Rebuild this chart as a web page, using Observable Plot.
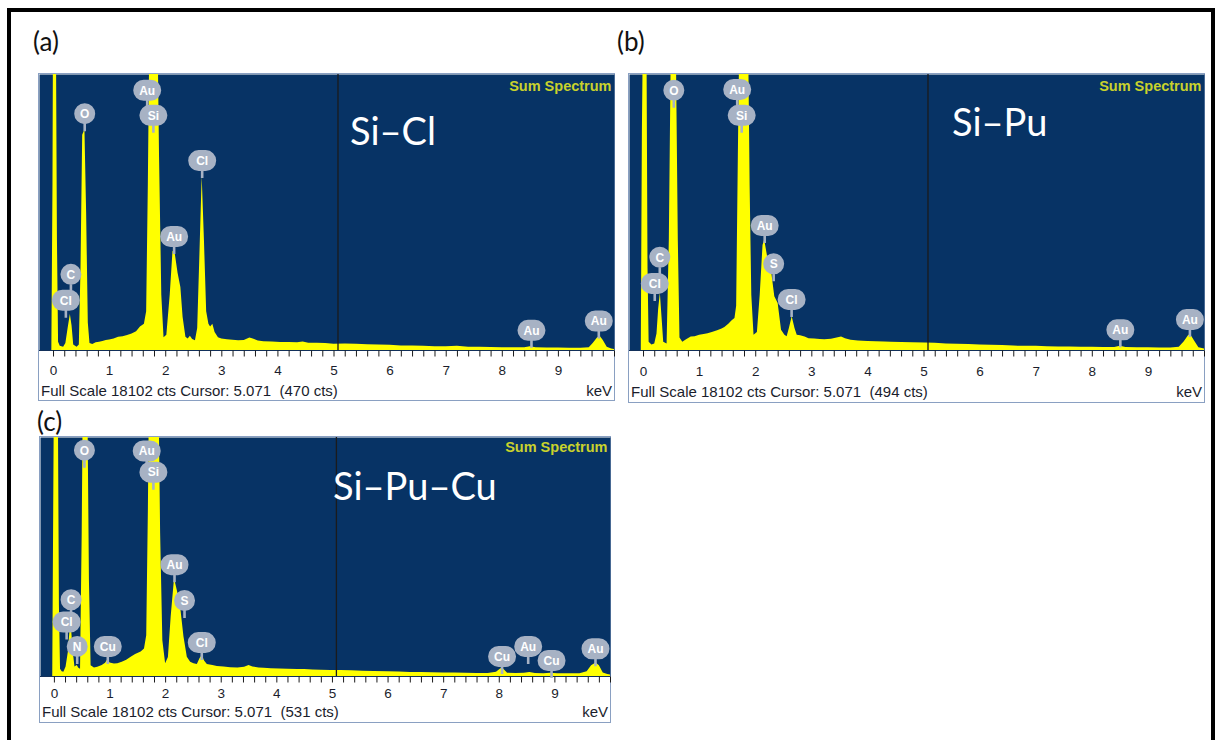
<!DOCTYPE html>
<html><head><meta charset="utf-8">
<script src="https://cdn.jsdelivr.net/npm/d3@7"></script>
<script src="https://cdn.jsdelivr.net/npm/@observablehq/plot@0.6"></script>
<style>
body{margin:0;background:#fff;}
#page{position:relative;width:1216px;height:740px;overflow:hidden;background:#fff;font-family:"Liberation Sans",Arial,sans-serif;}
.frame{position:absolute;left:7px;top:8px;width:1208px;height:800px;border:4px solid #000;box-sizing:border-box;}
.panel{position:absolute;border:1px solid #8aa0c2;background:#fff;box-sizing:border-box;}
.plot{position:absolute;}
.cap{position:absolute;font-size:15px;color:#1a1d2c;white-space:pre;line-height:16px;}
.tag{position:absolute;font-family:Lato,"Open Sans",sans-serif;font-size:26px;line-height:26px;color:#111;}
.name{position:absolute;font-family:Lato,"Open Sans",sans-serif;font-size:38px;line-height:38px;color:#fff;white-space:pre;}
</style></head>
<body><div id="page"><div class="frame"></div></div>
<script>
// ---------- data ----------
const fullScaleCts = 18102;
const cursorKeV = 5.071;
const cursorCts = [470, 494, 531];
const panelTags = ["(a)", "(b)", "(c)"];
const panelNames = ["Si–Cl", "Si–Pu", "Si–Pu–Cu"];
const majorTicks = [0,1,2,3,4,5,6,7,8,9];
const minorTicks = d3.range(0, 10.01, 0.2);

// spectrum (a) Si–Cl : energy (keV) / counts (% of full scale)
const specA_keV = [-0.03,-0.01,0.00,0.05,0.07,0.09,0.12,0.18,0.22,0.26,0.30,0.33,0.36,0.42,0.46,0.49,0.52,0.56,0.59,0.62,0.65,0.70,0.76,0.82,0.88,0.94,1.00,1.08,1.16,1.24,1.32,1.40,1.48,1.55,1.62,1.66,1.69,1.72,1.86,1.89,1.93,1.97,2.02,2.08,2.13,2.17,2.22,2.27,2.31,2.36,2.40,2.44,2.48,2.53,2.57,2.61,2.65,2.69,2.73,2.77,2.80,2.84,2.88,2.94,3.00,3.10,3.20,3.30,3.40,3.50,3.56,3.65,3.75,3.90,4.05,4.20,4.35,4.45,4.55,4.70,4.85,5.00,5.20,5.40,5.60,5.80,6.00,6.20,6.40,6.60,6.80,7.00,7.20,7.40,7.60,7.80,8.00,8.20,8.40,8.50,8.60,8.80,9.00,9.20,9.40,9.55,9.62,9.70,9.75,9.80,9.87,9.95,10.0];
const specA_cts = [0,60,120,120,40,3,1.5,1.2,2.5,8,13,9,2,1.2,2,30,78,80,50,10,2.5,2.2,2.8,3.0,3.3,3.6,3.8,4.2,4.8,5.0,5.4,6.0,6.8,8.5,9.5,14,60,120,120,70,20,4.6,5.5,20,36,35,28,22.8,12,4.8,4.2,5.2,4.0,3.5,8,35,63,40,14,9.5,8.5,9.5,6.5,4.6,4.2,3.9,3.7,3.5,3.6,4.5,4.2,3.4,3.2,3.1,2.9,2.9,2.8,3.1,2.6,2.6,2.5,2.3,2.4,2.3,2.1,2.0,1.9,1.6,1.6,1.5,1.4,1.4,1.5,1.2,1.2,1.1,1.0,1.0,1.0,1.4,1.0,0.9,0.9,0.8,0.8,1.0,2.5,4.6,5.0,3.6,1.2,0.5,0.4];

// spectrum (b) Si–Pu
const specB_keV = [-0.04,-0.02,0.00,0.06,0.08,0.10,0.15,0.20,0.24,0.27,0.30,0.33,0.36,0.42,0.46,0.50,0.58,0.62,0.65,0.70,0.76,0.85,0.92,1.00,1.08,1.15,1.24,1.32,1.40,1.45,1.52,1.58,1.63,1.66,1.69,1.72,1.87,1.90,1.93,1.97,2.03,2.08,2.13,2.16,2.22,2.28,2.34,2.40,2.46,2.52,2.56,2.60,2.65,2.70,2.74,2.80,2.88,2.95,3.05,3.15,3.23,3.35,3.45,3.53,3.60,3.70,3.83,4.00,4.15,4.30,4.42,4.60,4.80,5.02,5.20,5.40,5.60,5.80,6.00,6.20,6.40,6.60,6.80,7.00,7.20,7.40,7.60,7.80,8.00,8.20,8.40,8.50,8.60,8.80,9.00,9.20,9.40,9.55,9.64,9.72,9.76,9.82,9.90,10.0];
const specB_cts = [0,80,120,120,30,3,2,2.4,6,15,20.7,12,3,2.4,40,120,120,40,4.5,3.0,3.8,4.9,5.0,5.5,5.8,6.1,6.6,7.2,7.8,8.3,9.5,10.8,11.6,16,70,120,120,60,20,5.5,6.5,20,38,40,33,29.2,19.5,17,7.3,5.5,5.0,8,12.2,8,5.5,5.3,4.9,4.3,4.2,4.0,3.9,4.1,4.5,4.9,4.3,3.7,3.4,3.3,3.2,3.1,3.0,2.9,2.8,2.7,2.6,2.4,2.3,2.2,2.0,1.9,1.8,1.6,1.5,1.5,1.4,1.3,1.3,1.2,1.2,1.1,1.1,1.5,1.1,1.0,1.0,0.9,0.9,1.2,3.2,5.5,5.5,3.5,1.0,0.5];

// spectrum (c) Si–Pu–Cu
const specC_keV = [-0.03,-0.01,0.00,0.07,0.09,0.11,0.14,0.17,0.21,0.25,0.28,0.31,0.34,0.37,0.41,0.44,0.47,0.50,0.52,0.60,0.63,0.66,0.72,0.78,0.86,0.92,0.96,1.00,1.08,1.14,1.22,1.30,1.38,1.46,1.56,1.62,1.66,1.69,1.71,1.88,1.91,1.95,2.00,2.05,2.10,2.16,2.21,2.27,2.33,2.39,2.45,2.51,2.57,2.62,2.66,2.70,2.75,2.85,2.93,3.05,3.17,3.30,3.42,3.50,3.57,3.68,3.77,3.90,4.05,4.20,4.37,4.50,4.65,4.80,4.97,5.15,5.35,5.55,5.75,6.00,6.20,6.40,6.60,6.80,7.00,7.20,7.40,7.60,7.80,7.95,8.03,8.08,8.15,8.30,8.45,8.55,8.65,8.80,8.92,9.05,9.25,9.45,9.58,9.66,9.74,9.80,9.87,9.95,10.0];
const specC_cts = [0,80,120,120,30,3,2,1.8,4,10,19,19.3,10,4,4.6,3.5,3,60,120,120,40,4.5,3.6,3.9,4.6,5.5,7.0,5.6,5.2,5.3,6.0,6.8,8.1,9.2,10.2,11.5,17,70,120,120,60,15,5.3,8,25,40.9,36,29,16.5,8.1,6.0,5.3,5.0,7.5,8.8,6.5,5.0,4.6,4.2,4.0,3.7,3.6,3.9,4.6,4.0,3.6,3.4,3.2,3.1,3.0,2.9,2.9,2.7,2.6,2.5,2.5,2.4,2.2,2.1,2.0,1.9,1.7,1.7,1.6,1.5,1.5,1.4,1.3,1.3,1.8,3.2,3.0,1.4,1.3,1.4,1.7,1.3,1.2,1.4,1.2,1.2,1.2,2.0,4.5,5.6,4.5,1.5,0.8,0.6];

// element labels (badge centre: energy keV, height %)
const labelsA_el  = ["Au","Si","O","Cl","Au","C","Cl","Au","Au"];
const labelsA_keV = [1.67,1.78,0.556,2.65,2.15,0.31,0.22,8.52,9.72];
const labelsA_y   = [94.3,85.2,85.8,68.8,41.3,27.6,18.2,7.3,10.7];

const labelsB_el  = ["Au","Si","O","Au","S","Cl","C","Cl","Au","Au"];
const labelsB_keV = [1.67,1.75,0.54,2.16,2.32,2.64,0.29,0.20,8.50,9.74];
const labelsB_y   = [94.6,85.2,94.3,45.3,31.4,18.5,33.8,24.3,7.5,11.2];

const labelsC_el  = ["Au","Si","O","Au","S","Cl","C","Cl","N","Cu","Cu","Au","Cu","Au"];
const labelsC_keV = [1.66,1.78,0.54,2.16,2.34,2.65,0.30,0.22,0.41,0.96,8.05,8.52,8.94,9.73];
const labelsC_y   = [94.4,85.5,94.7,46.8,31.8,14.2,32.1,22.8,12.6,12.6,8.4,12.6,6.7,11.6];

// ---------- layout (page px) ----------
const layouts = [
  {box:[38,73,577,328],  plot:[39,74,575,276],  numDy:20, capTop:383, sumDy:12, tag:[33,28],  name:[350,111]},
  {box:[628,73,577,330], plot:[629,74,575,276], numDy:21, capTop:384, sumDy:12, tag:[617,28], name:[952,102]},
  {box:[39,436,572,287], plot:[40,437,570,239], numDy:17, capTop:704, sumDy:10, tag:[37,408], name:[333,466]}
];
const spectra = [[specA_keV,specA_cts],[specB_keV,specB_cts],[specC_keV,specC_cts]];
const labels = [[labelsA_el,labelsA_keV,labelsA_y],[labelsB_el,labelsB_keV,labelsB_y],[labelsC_el,labelsC_keV,labelsC_y]];

const BG = "#073365", YEL = "#ffff00", BADGE = "#a7b2c4";
const stem = (ctx, r) => { ctx.moveTo(-1.3, r-1); ctx.lineTo(1.3, r-1); ctx.lineTo(1.3, r+7); ctx.lineTo(-1.3, r+7); ctx.closePath(); };
const roundBadge = {draw(ctx){ const r = 10.5; ctx.moveTo(r,0); ctx.arc(0,0,r,0,2*Math.PI); ctx.closePath(); stem(ctx, r); }};
const wideBadge = {draw(ctx){ const r = 10.5, w = 3.5; ctx.moveTo(-w,-r); ctx.lineTo(w,-r); ctx.arc(w,0,r,-Math.PI/2,Math.PI/2); ctx.lineTo(-w,r); ctx.arc(-w,0,r,Math.PI/2,3*Math.PI/2); ctx.closePath(); stem(ctx, r); }};
const tickSym = {draw(ctx){ ctx.moveTo(0,0); ctx.lineTo(0,6); }};

const page = document.getElementById("page");
function add(cls, css, text){ const d = document.createElement("div"); d.className = cls; Object.assign(d.style, css); if (text != null) d.textContent = text; page.appendChild(d); return d; }

layouts.forEach((L, i) => {
  const [bx,by,bw,bh] = L.box, [px,py,pw,ph] = L.plot;
  add("panel", {left:bx+"px", top:by+"px", width:bw+"px", height:bh+"px"});
  const data = spectra[i][0].map((e,j) => ({e, c: spectra[i][1][j]}));
  const lab = labels[i][0].map((t,j) => ({t, e: labels[i][1][j], y: labels[i][2][j]}));
  const svg = Plot.plot({
    width: pw, height: ph + 32,
    marginTop: 0, marginLeft: 0, marginRight: 0, marginBottom: 32,
    x: {domain: [-0.25, 10.0], axis: null},
    y: {domain: [0, 100], axis: null},
    style: {background: "transparent", overflow: "visible"},
    marks: [
      Plot.frame({fill: BG, stroke: "none"}),
      Plot.areaY(data, {x: "e", y: "c", fill: YEL, clip: true}),
      Plot.ruleX([cursorKeV], {stroke: "#1b1b1b", strokeWidth: 1.3}),
      Plot.ruleY([0], {stroke: "#12305a", strokeWidth: 1}),
      Plot.dot(minorTicks, {x: d => d, y: () => 0, symbol: tickSym, stroke: "#1b1b1b", fill: "none", strokeWidth: 1}),
      Plot.text(majorTicks, {x: d => d, y: () => 0, dy: L.numDy, text: d => String(d), fontSize: 13.5, fill: "#1a1d2c", fontFamily: "Liberation Sans, Arial, sans-serif", lineAnchor: "middle"}),
      Plot.text(["Sum Spectrum"], {frameAnchor: "top-right", dx: -3, dy: L.sumDy, text: d => d, fill: "#c9d22c", fontSize: 14.5, fontWeight: "bold", fontFamily: "Liberation Sans, Arial, sans-serif", lineAnchor: "middle"}),
      Plot.dot(lab, {filter: d => d.t.length === 1, x: "e", y: "y", symbol: roundBadge, fill: BADGE, stroke: "none"}),
      Plot.dot(lab, {filter: d => d.t.length > 1, x: "e", y: "y", symbol: wideBadge, fill: BADGE, stroke: "none"}),
      Plot.text(lab, {x: "e", y: "y", text: "t", fill: "#ffffff", fontSize: 12, fontWeight: "bold", fontFamily: "Liberation Sans, Arial, sans-serif", lineAnchor: "middle", dy: 0.5})
    ]
  });
  const holder = add("plot", {left:px+"px", top:py+"px"});
  holder.appendChild(svg);
  add("cap", {left:(bx+3)+"px", top:L.capTop+"px"}, `Full Scale ${fullScaleCts} cts Cursor: ${cursorKeV.toFixed(3)}  (${cursorCts[i]} cts)`);
  add("cap", {left:(bx+bw-40)+"px", top:L.capTop+"px", width:"37px", textAlign:"right"}, "keV");
  add("tag", {left:L.tag[0]+"px", top:L.tag[1]+"px"}, panelTags[i]);
  add("name", {left:L.name[0]+"px", top:L.name[1]+"px"}, panelNames[i]);
});
</script></body></html>
